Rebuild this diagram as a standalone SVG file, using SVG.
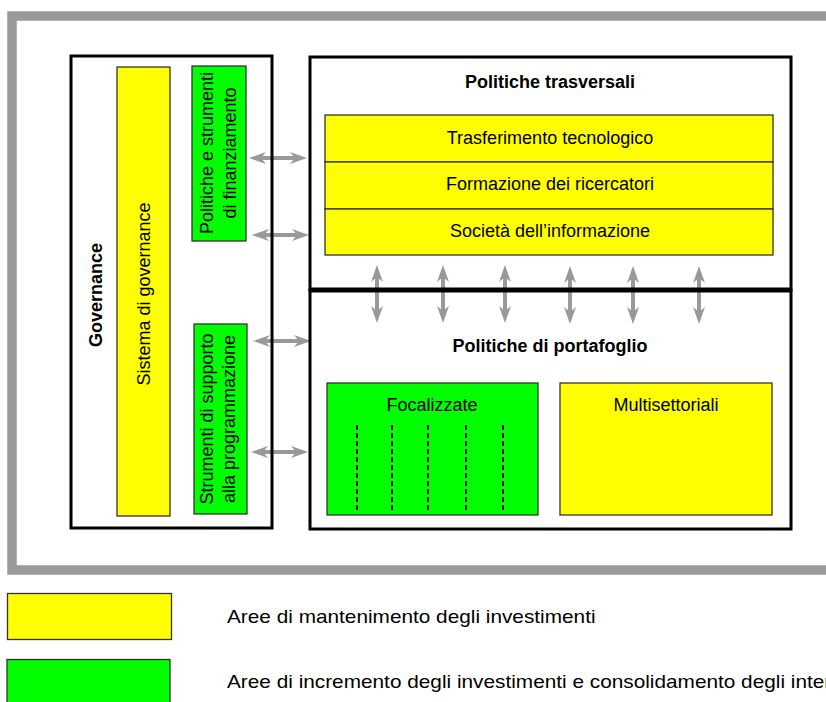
<svg xmlns="http://www.w3.org/2000/svg" width="826" height="702" viewBox="0 0 826 702">
  <style>
    text { font-family: "Liberation Sans", Arial, sans-serif; fill: #000; }
    .lbl { font-size: 18px; }
    .ttl { font-size: 18px; font-weight: bold; }
    .mid { text-anchor: middle; }
    .frame { fill: none; stroke: #999; stroke-width: 9.5; }
    .box { fill: #fff; stroke: #000; stroke-width: 3; }
    .yel { fill: #ffff00; stroke: #333; stroke-width: 1.3; }
    .grn { fill: #00ff00; stroke: #333; stroke-width: 1.3; }
    .arr { stroke: #999; stroke-width: 4; fill: none; marker-start: url(#head); marker-end: url(#head); }
    .dash { stroke: #000; stroke-width: 2; stroke-dasharray: 5 3; }
  </style>
  <defs>
    <marker id="head" markerUnits="userSpaceOnUse" markerWidth="18" markerHeight="14" viewBox="0 0 18 12" refX="9" refY="6" orient="auto-start-reverse">
      <path d="M0,0 L17,6 L0,12 L5,6 z" fill="#999"/>
    </marker>
  </defs>

  <rect width="826" height="702" fill="#fff"/>

  <!-- outer grey frame -->
  <rect class="frame" x="12" y="16" width="840" height="554"/>

  <!-- connectors (drawn beneath box outlines) -->
  <g id="connectors">
    <line class="arr" x1="257" y1="158" x2="299" y2="158"/>
    <line class="arr" x1="260" y1="235" x2="301" y2="235"/>
    <line class="arr" x1="261" y1="341" x2="303" y2="341"/>
    <line class="arr" x1="259" y1="452" x2="300" y2="452"/>
    <line class="arr" x1="377" y1="273" x2="377" y2="315"/>
    <line class="arr" x1="443" y1="273" x2="443" y2="315"/>
    <line class="arr" x1="505" y1="273" x2="505" y2="315"/>
    <line class="arr" x1="570" y1="274" x2="570" y2="316"/>
    <line class="arr" x1="633" y1="274" x2="633" y2="316"/>
    <line class="arr" x1="699" y1="274" x2="699" y2="316"/>
  </g>

  <!-- governance column -->
  <g id="governance">
    <rect x="71" y="56" width="201" height="472" fill="none" stroke="#000" stroke-width="3"/>
    <text class="ttl mid" transform="translate(102,295) rotate(-90)">Governance</text>
  </g>
  <g id="sistema-governance">
    <rect class="yel" x="117" y="67" width="53" height="449"/>
    <text class="lbl mid" transform="translate(150,294) rotate(-90)">Sistema di governance</text>
  </g>
  <g id="politiche-strumenti">
    <rect class="grn" x="192" y="66" width="54" height="175"/>
    <text class="lbl mid" transform="translate(213,153) rotate(-90)">Politiche e strumenti</text>
    <text class="lbl mid" transform="translate(236,153) rotate(-90)">di finanziamento</text>
  </g>
  <g id="strumenti-supporto">
    <rect class="grn" x="194" y="324" width="53" height="190"/>
    <text class="lbl mid" transform="translate(213,419) rotate(-90)">Strumenti di supporto</text>
    <text class="lbl mid" transform="translate(235,419) rotate(-90)">alla programmazione</text>
  </g>

  <!-- cross-cutting policies -->
  <g id="politiche-trasversali">
    <rect x="310" y="57" width="481" height="233" fill="none" stroke="#000" stroke-width="3"/>
    <text class="ttl mid" x="550" y="88">Politiche trasversali</text>
  </g>
  <g id="trasferimento">
    <rect class="yel" x="325" y="115" width="448" height="47"/>
    <text class="lbl mid" x="550" y="144">Trasferimento tecnologico</text>
  </g>
  <g id="formazione">
    <rect class="yel" x="325" y="162" width="448" height="47"/>
    <text class="lbl mid" x="550" y="190">Formazione dei ricercatori</text>
  </g>
  <g id="societa">
    <rect class="yel" x="325" y="209" width="448" height="46"/>
    <text class="lbl mid" x="550" y="237">Società dell’informazione</text>
  </g>

  <!-- portfolio policies -->
  <g id="politiche-portafoglio">
    <rect x="310" y="290" width="481" height="239" fill="none" stroke="#000" stroke-width="3"/>
    <line x1="310" y1="290" x2="791" y2="290" stroke="#000" stroke-width="5"/>
    <text class="ttl mid" x="550" y="352">Politiche di portafoglio</text>
  </g>
  <g id="focalizzate">
    <rect class="grn" x="327" y="383" width="211" height="132"/>
    <text class="lbl mid" x="432" y="411">Focalizzate</text>
    <line class="dash" x1="357" y1="425" x2="357" y2="510"/>
    <line class="dash" x1="392" y1="425" x2="392" y2="510"/>
    <line class="dash" x1="428" y1="425" x2="428" y2="510"/>
    <line class="dash" x1="466" y1="425" x2="466" y2="510"/>
    <line class="dash" x1="503" y1="425" x2="503" y2="510"/>
  </g>
  <g id="multisettoriali">
    <rect class="yel" x="560" y="383" width="212" height="132"/>
    <text class="lbl mid" x="666" y="411">Multisettoriali</text>
  </g>

  <!-- legend -->
  <g id="legend-mantenimento">
    <rect class="yel" x="7.5" y="593.5" width="164" height="46"/>
    <text transform="translate(227,623) scale(1.13,1)" style="font-size:18.4px">Aree di mantenimento degli investimenti</text>
  </g>
  <g id="legend-incremento">
    <rect class="grn" x="7" y="659.5" width="163" height="50"/>
    <text transform="translate(227,688) scale(1.13,1)" style="font-size:18.4px">Aree di incremento degli investimenti e consolidamento degli interventi</text>
  </g>
</svg>
